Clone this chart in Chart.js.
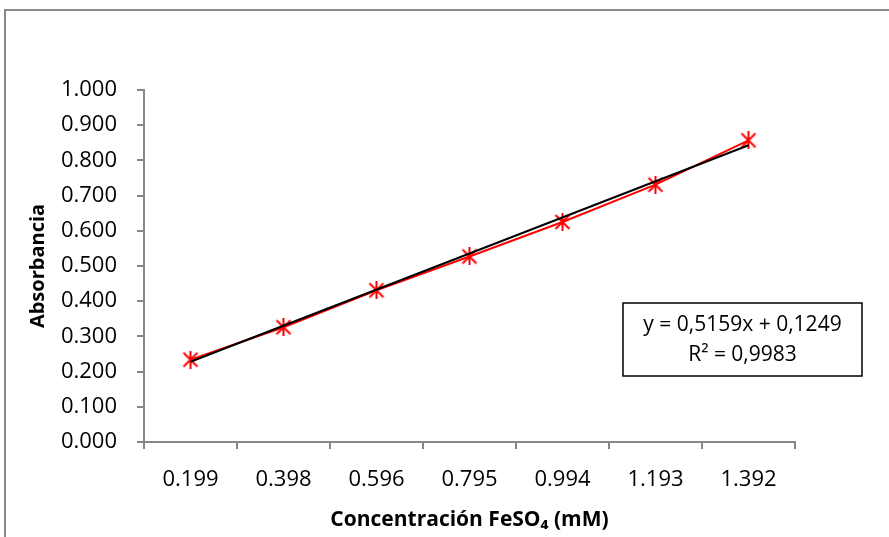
<!DOCTYPE html>
<html>
<head>
<meta charset="utf-8">
<script src="https://cdn.jsdelivr.net/npm/chart.js@4.4.1/dist/chart.umd.min.js"></script>
<style>
  html, body { margin: 0; padding: 0; background: #fff; }
  #wrap { width: 889px; height: 537px; position: relative; }
</style>
</head>
<body>
<div id="wrap"><canvas id="chart" width="889" height="537"></canvas></div>
<script>
// concentrations (category labels) and measured absorbance
var concLabels = ['0.199', '0.398', '0.596', '0.795', '0.994', '1.193', '1.392'];
var absorbance = [0.234, 0.326, 0.431, 0.527, 0.625, 0.731, 0.857];
// linear trendline, read at first and last point
var trendLine = [0.228, null, null, null, null, null, 0.843];
var eqLines = ['y = 0,5159x + 0,1249', 'R\u00B2 = 0,9983'];

var axisGray = '#868686';
var FONT = "'Open Sans', 'Liberation Sans', sans-serif";

// excel-style asterisk marker: X with a vertical bar
function makeAsterisk(size, color) {
  var c = document.createElement('canvas');
  c.width = size; c.height = size;
  var g = c.getContext('2d');
  var m = 2, s = size - 2;
  g.strokeStyle = color;
  g.lineWidth = 2;
  g.beginPath();
  g.moveTo(m, m); g.lineTo(s, s);
  g.moveTo(s, m); g.lineTo(m, s);
  g.moveTo(size / 2, 0); g.lineTo(size / 2, size);
  g.stroke();
  return c;
}
var asterisk = makeAsterisk(18, '#ff0000');

// outer frame + equation box
var decorPlugin = {
  id: 'decor',
  beforeDraw: function (chart) {
    var ctx = chart.ctx;
    ctx.save();
    ctx.strokeStyle = '#8a8a8a';
    ctx.lineWidth = 2;
    ctx.strokeRect(5, 10, 950, 600);
    ctx.restore();
  },
  afterDraw: function (chart) {
    var ctx = chart.ctx;
    var a = chart.chartArea;
    var bx = a.left + 479, by = a.top + 213, bw = 239, bh = 73;
    ctx.save();
    ctx.fillStyle = '#fff';
    ctx.fillRect(bx, by, bw, bh);
    ctx.strokeStyle = '#000';
    ctx.lineWidth = 1.5;
    ctx.strokeRect(bx, by, bw, bh);
    ctx.fillStyle = '#000';
    ctx.font = '21px ' + FONT;
    ctx.textAlign = 'center';
    ctx.textBaseline = 'middle';
    ctx.fillText(eqLines[0], bx + bw / 2, by + 22);
    ctx.fillText(eqLines[1], bx + bw / 2, by + 52);
    ctx.restore();
  }
};

new Chart(document.getElementById('chart'), {
  type: 'line',
  data: {
    labels: concLabels,
    datasets: [
      {
        label: 'Lineal',
        data: trendLine,
        spanGaps: true,
        borderColor: '#000',
        borderWidth: 2,
        pointRadius: 0,
        fill: false,
        tension: 0,
        order: 0
      },
      {
        label: 'Absorbancia',
        data: absorbance,
        borderColor: '#ff0000',
        borderWidth: 2,
        pointStyle: asterisk,
        pointRadius: 9,
        fill: false,
        tension: 0,
        order: 1
      }
    ]
  },
  options: {
    responsive: false,
    animation: false,
    devicePixelRatio: 1,
    layout: { padding: { left: 26, top: 90, right: 94, bottom: 4 } },
    plugins: {
      legend: { display: false },
      tooltip: { enabled: false }
    },
    scales: {
      x: {
        type: 'category',
        offset: true,
        afterFit: function (s) { s.height = 91; },
        grid: {
          offset: true,
          drawOnChartArea: false,
          drawTicks: true,
          tickLength: 7,
          color: axisGray,
          lineWidth: 2
        },
        border: { display: true, color: axisGray, width: 2 },
        ticks: {
          color: '#000',
          font: { family: FONT, size: 22 },
          padding: 18,
          maxRotation: 0
        },
        title: {
          display: true,
          text: 'Concentración FeSO\u2084 (mM)',
          color: '#000',
          font: { family: FONT, size: 21, weight: 'bold' },
          padding: { top: 6, bottom: 0 }
        }
      },
      y: {
        min: 0,
        max: 1,
        afterFit: function (s) { s.width = 118; },
        grid: {
          drawOnChartArea: false,
          drawTicks: true,
          tickLength: 7,
          color: axisGray,
          lineWidth: 2
        },
        border: { display: true, color: axisGray, width: 2 },
        ticks: {
          stepSize: 0.1,
          color: '#000',
          font: { family: FONT, size: 22 },
          padding: 20,
          callback: function (v) { return Number(v).toFixed(3); }
        },
        title: {
          display: true,
          text: 'Absorbancia',
          color: '#000',
          font: { family: FONT, size: 20, weight: 'bold' },
          padding: { top: 0, bottom: 0 }
        }
      }
    }
  },
  plugins: [decorPlugin]
});
</script>
</body>
</html>
